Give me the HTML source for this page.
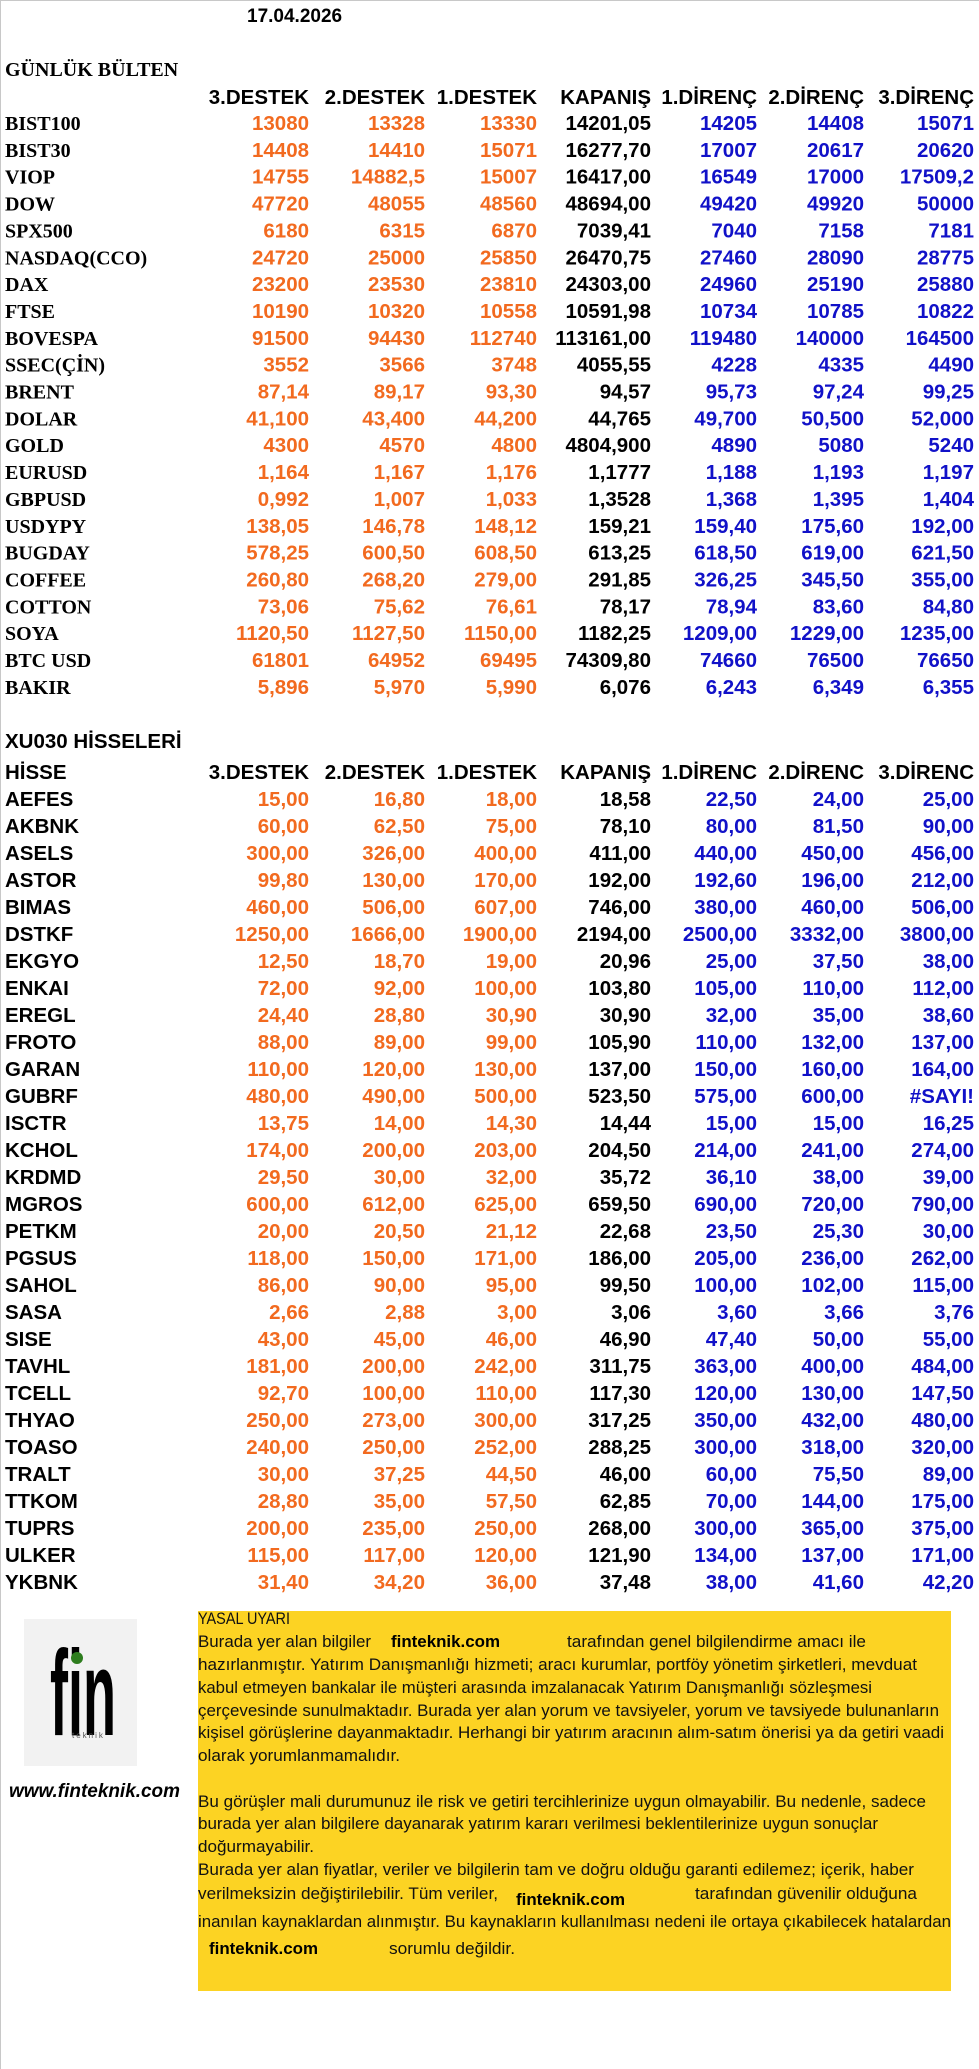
<!DOCTYPE html>
<html><head><meta charset="utf-8"><style>
html,body{margin:0;padding:0;background:#fff;}
svg{display:block;}
.s{font-family:"Liberation Sans",sans-serif;font-weight:bold;font-size:20.5px;}
.r{font-family:"Liberation Serif",serif;font-weight:bold;font-size:20px;}
.o{fill:#F26A1F;text-anchor:end}
.b{fill:#1111C8;text-anchor:end}
.k{fill:#000;text-anchor:end}
.l{font-family:"Liberation Sans",sans-serif;font-size:17px;fill:#111;}
.f{font-family:"Liberation Sans",sans-serif;font-size:16.5px;font-weight:bold;fill:#000;}
</style></head><body>
<svg width="979" height="2069" viewBox="0 0 979 2069" xmlns="http://www.w3.org/2000/svg">
<rect x="0" y="0" width="979" height="2069" fill="#fff"/>
<line x1="0.5" y1="0" x2="0.5" y2="2069" stroke="#c8c8c8"/>
<line x1="0" y1="0.5" x2="979" y2="0.5" stroke="#c8c8c8"/>
<text x="247" y="22" class="s" style="font-size:19px">17.04.2026</text>
<text x="5" y="76" class="r">GÜNLÜK BÜLTEN</text>
<g class="s">
<text x="309" y="104" class="k">3.DESTEK</text><text x="425" y="104" class="k">2.DESTEK</text><text x="537" y="104" class="k">1.DESTEK</text><text x="651" y="104" class="k">KAPANIŞ</text><text x="757" y="104" class="k">1.DİRENÇ</text><text x="864" y="104" class="k">2.DİRENÇ</text><text x="974" y="104" class="k">3.DİRENÇ</text>
</g>
<g id="top"></g>
<text x="5" y="748" class="s">XU030 HİSSELERİ</text>
<g class="s">
<text x="5" y="779">HİSSE</text>
<text x="309" y="779" class="k">3.DESTEK</text><text x="425" y="779" class="k">2.DESTEK</text><text x="537" y="779" class="k">1.DESTEK</text><text x="651" y="779" class="k">KAPANIŞ</text><text x="757" y="779" class="k">1.DİRENC</text><text x="864" y="779" class="k">2.DİRENC</text><text x="974" y="779" class="k">3.DİRENC</text>
</g>
<g id="bot"></g>
<rect x="24" y="1619" width="113" height="147" fill="#F2F2F2"/>
<g transform="translate(50,1735) scale(1,2.1)">
<text x="0" y="0" style="font-family:'Liberation Sans',sans-serif;font-size:58px;font-weight:bold;fill:#000" textLength="66" lengthAdjust="spacingAndGlyphs">fin</text>
</g>
<circle cx="77" cy="1658" r="6" fill="#2E7D1E"/>
<text x="72" y="1738" style="font-family:'Liberation Sans',sans-serif;font-size:8px;fill:#555;letter-spacing:2px">teknik</text>
<text x="9" y="1797" style="font-family:'Liberation Sans',sans-serif;font-size:19px;font-weight:bold;font-style:italic;fill:#000" textLength="171" lengthAdjust="spacingAndGlyphs">www.finteknik.com</text>
<rect x="198" y="1611" width="753" height="380" fill="#FCD323"/>
<g class="l">
<text x="198" y="1624" textLength="92" lengthAdjust="spacingAndGlyphs">YASAL UYARI</text>
<text x="198" y="1647" textLength="173" lengthAdjust="spacingAndGlyphs">Burada yer alan bilgiler</text>
<text x="567" y="1647" textLength="299" lengthAdjust="spacingAndGlyphs">tarafından genel bilgilendirme amacı ile</text>
<text x="198" y="1670" textLength="719" lengthAdjust="spacingAndGlyphs">hazırlanmıştır. Yatırım Danışmanlığı hizmeti; aracı kurumlar, portföy yönetim şirketleri, mevduat</text>
<text x="198" y="1693" textLength="674" lengthAdjust="spacingAndGlyphs">kabul etmeyen bankalar ile müşteri arasında imzalanacak Yatırım Danışmanlığı sözleşmesi</text>
<text x="198" y="1716" textLength="741" lengthAdjust="spacingAndGlyphs">çerçevesinde sunulmaktadır. Burada yer alan yorum ve tavsiyeler, yorum ve tavsiyede bulunanların</text>
<text x="198" y="1738" textLength="746" lengthAdjust="spacingAndGlyphs">kişisel görüşlerine dayanmaktadır. Herhangi bir yatırım aracının alım-satım önerisi ya da getiri vaadi</text>
<text x="198" y="1761" textLength="202" lengthAdjust="spacingAndGlyphs">olarak yorumlanmamalıdır.</text>
<text x="198" y="1807" textLength="728" lengthAdjust="spacingAndGlyphs">Bu görüşler mali durumunuz ile risk ve getiri tercihlerinize uygun olmayabilir. Bu nedenle, sadece</text>
<text x="198" y="1829" textLength="680" lengthAdjust="spacingAndGlyphs">burada yer alan bilgilere dayanarak yatırım kararı verilmesi beklentilerinize uygun sonuçlar</text>
<text x="198" y="1852" textLength="116" lengthAdjust="spacingAndGlyphs">doğurmayabilir.</text>
<text x="198" y="1875" textLength="716" lengthAdjust="spacingAndGlyphs">Burada yer alan fiyatlar, veriler ve bilgilerin tam ve doğru olduğu garanti edilemez; içerik, haber</text>
<text x="198" y="1899" textLength="300" lengthAdjust="spacingAndGlyphs">verilmeksizin değiştirilebilir. Tüm veriler,</text>
<text x="695" y="1899" textLength="222" lengthAdjust="spacingAndGlyphs">tarafından güvenilir olduğuna</text>
<text x="198" y="1927" textLength="753" lengthAdjust="spacingAndGlyphs">inanılan kaynaklardan alınmıştır. Bu kaynakların kullanılması nedeni ile ortaya çıkabilecek hatalardan</text>
<text x="389" y="1954" textLength="126" lengthAdjust="spacingAndGlyphs">sorumlu değildir.</text>
</g>
<g class="f">
<text x="391" y="1647" textLength="109" lengthAdjust="spacingAndGlyphs">finteknik.com</text>
<text x="516" y="1905" textLength="109" lengthAdjust="spacingAndGlyphs">finteknik.com</text>
<text x="209" y="1954" textLength="109" lengthAdjust="spacingAndGlyphs">finteknik.com</text>
</g>
</svg>
<script>
var X=[309,425,537,651,757,864,974],C=['o','o','o','k','b','b','b'];
function rows(id,data,y0,dy,lab){var g=document.getElementById(id),h='';
data.forEach(function(r,i){var y=y0+i*dy;
h+='<text x="5" y="'+y+'" class="'+lab+'">'+r[0]+'</text>';
for(var j=0;j<7;j++)h+='<text x="'+X[j]+'" y="'+y+'" class="s '+C[j]+'">'+r[j+1]+'</text>';});
g.innerHTML=h;}
var T=[["BIST100","13080","13328","13330","14201,05","14205","14408","15071"],
["BIST30","14408","14410","15071","16277,70","17007","20617","20620"],
["VIOP","14755","14882,5","15007","16417,00","16549","17000","17509,2"],
["DOW","47720","48055","48560","48694,00","49420","49920","50000"],
["SPX500","6180","6315","6870","7039,41","7040","7158","7181"],
["NASDAQ(CCO)","24720","25000","25850","26470,75","27460","28090","28775"],
["DAX","23200","23530","23810","24303,00","24960","25190","25880"],
["FTSE","10190","10320","10558","10591,98","10734","10785","10822"],
["BOVESPA","91500","94430","112740","113161,00","119480","140000","164500"],
["SSEC(ÇİN)","3552","3566","3748","4055,55","4228","4335","4490"],
["BRENT","87,14","89,17","93,30","94,57","95,73","97,24","99,25"],
["DOLAR","41,100","43,400","44,200","44,765","49,700","50,500","52,000"],
["GOLD","4300","4570","4800","4804,900","4890","5080","5240"],
["EURUSD","1,164","1,167","1,176","1,1777","1,188","1,193","1,197"],
["GBPUSD","0,992","1,007","1,033","1,3528","1,368","1,395","1,404"],
["USDYPY","138,05","146,78","148,12","159,21","159,40","175,60","192,00"],
["BUGDAY","578,25","600,50","608,50","613,25","618,50","619,00","621,50"],
["COFFEE","260,80","268,20","279,00","291,85","326,25","345,50","355,00"],
["COTTON","73,06","75,62","76,61","78,17","78,94","83,60","84,80"],
["SOYA","1120,50","1127,50","1150,00","1182,25","1209,00","1229,00","1235,00"],
["BTC USD","61801","64952","69495","74309,80","74660","76500","76650"],
["BAKIR","5,896","5,970","5,990","6,076","6,243","6,349","6,355"]];
var B=[["AEFES","15,00","16,80","18,00","18,58","22,50","24,00","25,00"],
["AKBNK","60,00","62,50","75,00","78,10","80,00","81,50","90,00"],
["ASELS","300,00","326,00","400,00","411,00","440,00","450,00","456,00"],
["ASTOR","99,80","130,00","170,00","192,00","192,60","196,00","212,00"],
["BIMAS","460,00","506,00","607,00","746,00","380,00","460,00","506,00"],
["DSTKF","1250,00","1666,00","1900,00","2194,00","2500,00","3332,00","3800,00"],
["EKGYO","12,50","18,70","19,00","20,96","25,00","37,50","38,00"],
["ENKAI","72,00","92,00","100,00","103,80","105,00","110,00","112,00"],
["EREGL","24,40","28,80","30,90","30,90","32,00","35,00","38,60"],
["FROTO","88,00","89,00","99,00","105,90","110,00","132,00","137,00"],
["GARAN","110,00","120,00","130,00","137,00","150,00","160,00","164,00"],
["GUBRF","480,00","490,00","500,00","523,50","575,00","600,00","#SAYI!"],
["ISCTR","13,75","14,00","14,30","14,44","15,00","15,00","16,25"],
["KCHOL","174,00","200,00","203,00","204,50","214,00","241,00","274,00"],
["KRDMD","29,50","30,00","32,00","35,72","36,10","38,00","39,00"],
["MGROS","600,00","612,00","625,00","659,50","690,00","720,00","790,00"],
["PETKM","20,00","20,50","21,12","22,68","23,50","25,30","30,00"],
["PGSUS","118,00","150,00","171,00","186,00","205,00","236,00","262,00"],
["SAHOL","86,00","90,00","95,00","99,50","100,00","102,00","115,00"],
["SASA","2,66","2,88","3,00","3,06","3,60","3,66","3,76"],
["SISE","43,00","45,00","46,00","46,90","47,40","50,00","55,00"],
["TAVHL","181,00","200,00","242,00","311,75","363,00","400,00","484,00"],
["TCELL","92,70","100,00","110,00","117,30","120,00","130,00","147,50"],
["THYAO","250,00","273,00","300,00","317,25","350,00","432,00","480,00"],
["TOASO","240,00","250,00","252,00","288,25","300,00","318,00","320,00"],
["TRALT","30,00","37,25","44,50","46,00","60,00","75,50","89,00"],
["TTKOM","28,80","35,00","57,50","62,85","70,00","144,00","175,00"],
["TUPRS","200,00","235,00","250,00","268,00","300,00","365,00","375,00"],
["ULKER","115,00","117,00","120,00","121,90","134,00","137,00","171,00"],
["YKBNK","31,40","34,20","36,00","37,48","38,00","41,60","42,20"]];
rows('top',T,130,26.85,'r');
rows('bot',B,806,27.0,'s');
</script>
</body></html>
